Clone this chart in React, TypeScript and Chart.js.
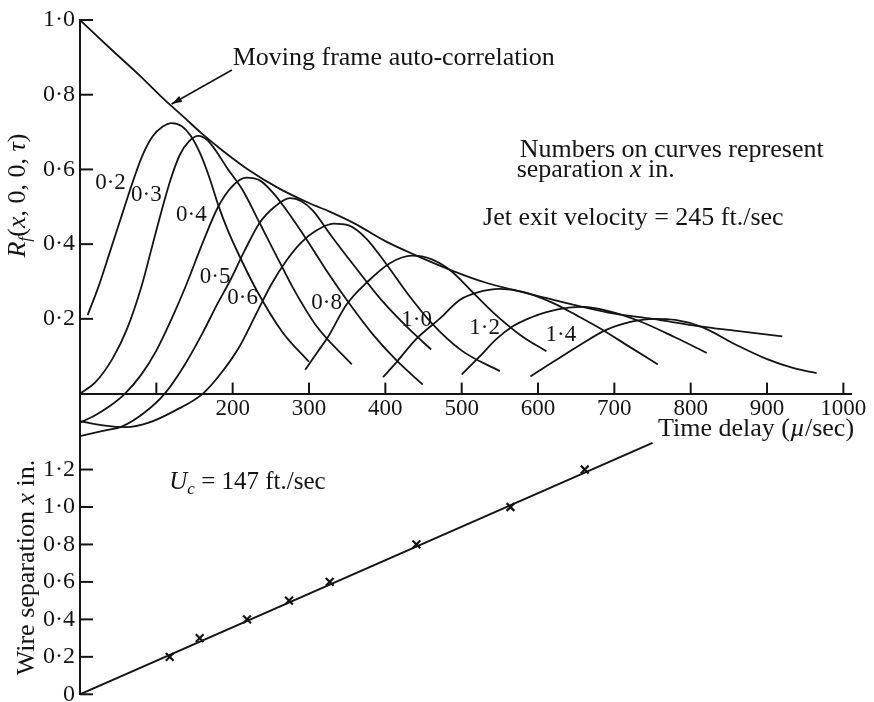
import { useEffect, useRef } from 'react';
import { Chart, registerables } from 'chart.js';

Chart.register(...registerables);

const INK = '#141414';
const FONT = '"Liberation Serif", "DejaVu Serif", serif';
const NOTE_SIZE = 26;
const TICK_SIZE = 24;
const CURVE_LABEL_SIZE = 23;

// Moving-frame auto-correlation envelope: time delay (µs) vs R
const envTime = [0, 40, 80, 111, 135, 159, 187, 220, 260, 300, 327, 360, 400, 440, 489, 530, 567, 610, 650, 700, 750, 812, 860, 920];
const envCorr = [1.0, 0.923, 0.848, 0.786, 0.742, 0.697, 0.65, 0.6, 0.55, 0.51, 0.487, 0.455, 0.408, 0.37, 0.328, 0.298, 0.278, 0.256, 0.236, 0.214, 0.2, 0.18, 0.168, 0.153];

// Space-time correlation curves, one pair of arrays per wire separation
const t02 = [10, 24, 39, 56, 70, 82, 95, 108, 120, 133, 145, 158, 170, 181, 193, 205, 231, 265, 300];
const r02 = [0.21, 0.285, 0.378, 0.485, 0.572, 0.638, 0.688, 0.714, 0.724, 0.716, 0.69, 0.64, 0.575, 0.505, 0.44, 0.385, 0.278, 0.165, 0.085];

const t03 = [0, 20, 43, 62, 81, 94, 107, 119, 131, 143, 155, 166, 178, 192, 213, 235, 262, 279, 310, 356];
const r03 = [0, 0.03, 0.095, 0.175, 0.29, 0.39, 0.49, 0.575, 0.64, 0.676, 0.69, 0.68, 0.65, 0.606, 0.545, 0.458, 0.35, 0.283, 0.18, 0.078];

const t04 = [0, 20, 40, 59, 80, 100, 120, 139, 160, 181, 200, 218, 236, 253, 275, 297, 325, 355, 385, 415, 449];
const r04 = [-0.078, -0.058, -0.032, 0, 0.05, 0.115, 0.2, 0.29, 0.4, 0.5, 0.556, 0.578, 0.57, 0.537, 0.478, 0.412, 0.323, 0.235, 0.155, 0.088, 0.024];

const t05 = [0, 30, 56, 85, 111, 135, 160, 180, 196, 215, 235, 255, 275, 290, 305, 330, 360, 395, 430, 460];
const r05 = [-0.114, -0.1, -0.087, -0.05, 0, 0.07, 0.16, 0.24, 0.3, 0.38, 0.456, 0.5, 0.523, 0.515, 0.49, 0.42, 0.34, 0.25, 0.175, 0.118];

const t06 = [0, 30, 60, 90, 125, 161, 185, 209, 230, 250, 270, 290, 310, 332, 352, 375, 400, 430, 460, 500, 550];
const r06 = [-0.074, -0.085, -0.09, -0.078, -0.045, 0, 0.055, 0.126, 0.21, 0.29, 0.355, 0.405, 0.437, 0.455, 0.45, 0.415, 0.35, 0.265, 0.19, 0.115, 0.06];

const t08 = [295, 310, 325, 349, 377, 406, 435, 460, 485, 515, 545, 578, 611];
const r08 = [0.064, 0.108, 0.152, 0.238, 0.3, 0.349, 0.369, 0.36, 0.33, 0.27, 0.21, 0.155, 0.113];

const t10 = [397, 415, 440, 472, 497, 520, 550, 580, 620, 650, 681, 720, 757];
const r10 = [0.044, 0.085, 0.145, 0.202, 0.25, 0.27, 0.28, 0.272, 0.242, 0.21, 0.175, 0.125, 0.078];

const t12 = [500, 524, 545, 567, 590, 611, 640, 660, 690, 734, 780, 821];
const r12 = [0.051, 0.1, 0.145, 0.18, 0.203, 0.218, 0.23, 0.232, 0.222, 0.193, 0.15, 0.109];

const t14 = [590, 620, 655, 690, 724, 752, 780, 815, 860, 900, 935, 965];
const r14 = [0.046, 0.085, 0.13, 0.171, 0.193, 0.2, 0.197, 0.178, 0.13, 0.092, 0.068, 0.055];

// Curve labels (separation in inches) and where they sit, in (µs, R)
const curveLabels = ['0·2', '0·3', '0·4', '0·5', '0·6', '0·8', '1·0', '1·2', '1·4'];
const curveLabelTime = [40, 87, 146, 177, 213, 323, 441, 530, 630];
const curveLabelCorr = [0.564, 0.532, 0.479, 0.313, 0.257, 0.243, 0.198, 0.176, 0.158];

// Lower panel: time of peak correlation vs wire separation
const peakTime = [117.5, 156.8, 218.8, 273.8, 327.1, 440.7, 563.9, 661.2];
const peakSep = [0.2, 0.3, 0.4, 0.5, 0.6, 0.8, 1.0, 1.2];
const fitTime = [0, 750];
const fitSep = [0, 1.342];

// Axis ticks
const timeTicks = [100, 200, 300, 400, 500, 600, 700, 800, 900, 1000];
const corrTicks = [0.2, 0.4, 0.6, 0.8, 1.0];
const sepTicks = [0, 0.2, 0.4, 0.6, 0.8, 1.0, 1.2];

const fmt = (v: number) => (v === 0 ? '0' : v.toFixed(1).replace('.', '·'));
const pts = (xs: number[], ys: number[]) => xs.map((x, i) => ({ x, y: ys[i] }));

type Part = { t: string; it?: boolean; sub?: boolean };

function fontOf(p: Part, size: number) {
  const s = p.sub ? size * 0.68 : size;
  return `${p.it ? 'italic ' : ''}${s}px ${FONT}`;
}

function drawRich(ctx: CanvasRenderingContext2D, parts: Part[], x: number, y: number, align: 'left' | 'right' | 'center', size: number) {
  ctx.textBaseline = 'middle';
  ctx.textAlign = 'left';
  const widths = parts.map((p) => {
    ctx.font = fontOf(p, size);
    return ctx.measureText(p.t).width;
  });
  const total = widths.reduce((a, b) => a + b, 0);
  let cx = align === 'left' ? x : align === 'right' ? x - total : x - total / 2;
  parts.forEach((p, i) => {
    ctx.font = fontOf(p, size);
    ctx.fillText(p.t, cx, p.sub ? y + size * 0.3 : y);
    cx += widths[i];
  });
}

const decor = {
  id: 'decor',
  afterDraw(chart: any) {
    const { ctx, chartArea, scales } = chart;
    const sx = scales.x;
    const sy = scales.y;
    const s2 = scales.y2;
    const X = (t: number) => sx.getPixelForValue(t);
    const Y = (r: number) => sy.getPixelForValue(r);
    const Y2 = (v: number) => s2.getPixelForValue(v);
    const left = chartArea.left;

    ctx.save();
    ctx.strokeStyle = INK;
    ctx.fillStyle = INK;
    ctx.lineWidth = 2;
    ctx.lineCap = 'butt';

    const seg = (x1: number, y1: number, x2: number, y2: number) => {
      ctx.beginPath();
      ctx.moveTo(x1, y1);
      ctx.lineTo(x2, y2);
      ctx.stroke();
    };

    // inward tick marks
    const y0 = Y(0);
    timeTicks.forEach((v) => seg(X(v), y0, X(v), y0 - 11));
    corrTicks.forEach((v) => seg(left, Y(v), left + 13, Y(v)));
    sepTicks.forEach((v) => seg(left, Y2(v), left + 13, Y2(v)));

    // lower panel tick labels
    sepTicks.forEach((v) => drawRich(ctx, [{ t: fmt(v) }], left - 5, Y2(v), 'right', TICK_SIZE));

    // separation labels on the curves
    curveLabels.forEach((lab, i) =>
      drawRich(ctx, [{ t: lab }], X(curveLabelTime[i]), Y(curveLabelCorr[i]), 'center', CURVE_LABEL_SIZE)
    );

    // envelope annotation with arrow
    drawRich(ctx, [{ t: 'Moving frame auto-correlation' }], X(200), Y(0.898), 'left', NOTE_SIZE);
    const ax1 = X(199), ay1 = Y(0.866), ax2 = X(120), ay2 = Y(0.775);
    ctx.lineWidth = 1.6;
    seg(ax1, ay1, ax2, ay2);
    const ang = Math.atan2(ay2 - ay1, ax2 - ax1);
    ctx.beginPath();
    ctx.moveTo(ax2, ay2);
    ctx.lineTo(ax2 - 11 * Math.cos(ang - 0.3), ay2 - 11 * Math.sin(ang - 0.3));
    ctx.lineTo(ax2 - 11 * Math.cos(ang + 0.3), ay2 - 11 * Math.sin(ang + 0.3));
    ctx.closePath();
    ctx.fill();

    // notes
    drawRich(ctx, [{ t: 'Numbers on curves represent' }], X(576), Y(0.652), 'left', NOTE_SIZE);
    drawRich(ctx, [{ t: 'separation ' }, { t: 'x', it: true }, { t: ' in.' }], X(572), Y(0.598), 'left', NOTE_SIZE);
    drawRich(ctx, [{ t: 'Jet exit velocity = 245 ft./sec' }], X(528), Y(0.47), 'left', NOTE_SIZE);
    drawRich(ctx, [{ t: 'U', it: true }, { t: 'c', it: true, sub: true }, { t: ' = 147 ft./sec' }], X(117), Y2(1.131), 'left', 25);

    // axis titles
    drawRich(ctx, [{ t: 'Time delay (' }, { t: 'µ', it: true }, { t: '/sec)' }], X(1014), Y(-0.096), 'right', NOTE_SIZE);

    ctx.save();
    ctx.translate(left - 62, Y(0.53));
    ctx.rotate(-Math.PI / 2);
    drawRich(
      ctx,
      [{ t: 'R', it: true }, { t: 'f', it: true, sub: true }, { t: '(' }, { t: 'x', it: true }, { t: ', 0, 0, ' }, { t: 'τ', it: true }, { t: ')' }],
      0,
      0,
      'center',
      NOTE_SIZE
    );
    ctx.restore();

    ctx.save();
    ctx.translate(left - 53, Y2(0.677));
    ctx.rotate(-Math.PI / 2);
    drawRich(ctx, [{ t: 'Wire separation ' }, { t: 'x', it: true }, { t: ' in.' }], 0, 0, 'center', NOTE_SIZE);
    ctx.restore();

    ctx.restore();
  },
};

export default function App() {
  const ref = useRef<HTMLCanvasElement | null>(null);

  useEffect(() => {
    if (!ref.current) return;
    const curve = (xs: number[], ys: number[]) => ({
      data: pts(xs, ys),
      yAxisID: 'y',
      borderColor: INK,
      borderWidth: 1.8,
      pointRadius: 0,
      cubicInterpolationMode: 'monotone' as const,
      fill: false,
    });

    const chart = new Chart(ref.current, {
      type: 'line',
      data: {
        datasets: [
          curve(envTime, envCorr),
          curve(t02, r02),
          curve(t03, r03),
          curve(t04, r04),
          curve(t05, r05),
          curve(t06, r06),
          curve(t08, r08),
          curve(t10, r10),
          curve(t12, r12),
          curve(t14, r14),
          {
            data: pts(fitTime, fitSep),
            yAxisID: 'y2',
            borderColor: INK,
            borderWidth: 2,
            pointRadius: 0,
            tension: 0,
          },
          {
            data: pts(peakTime, peakSep),
            yAxisID: 'y2',
            showLine: false,
            pointStyle: 'crossRot',
            pointRadius: 5.5,
            borderColor: INK,
            pointBorderWidth: 2.2,
          } as any,
        ],
      },
      options: {
        animation: false,
        responsive: false,
        devicePixelRatio: 1,
        layout: { padding: { left: 0, top: 20, right: 23, bottom: 7 } },
        plugins: { legend: { display: false }, tooltip: { enabled: false } },
        scales: {
          x: {
            type: 'linear',
            min: 0,
            max: 1010,
            position: { y: 0 } as any,
            grid: { display: false, drawTicks: false },
            border: { display: true, color: INK, width: 2 },
            afterFit: (s: any) => {
              s.height = 0;
              s.paddingLeft = 0;
              s.paddingRight = 0;
            },
            afterBuildTicks: (s: any) => {
              s.ticks = timeTicks.map((v) => ({ value: v }));
            },
            ticks: {
              autoSkip: false,
              maxRotation: 0,
              padding: 2,
              color: INK,
              font: { family: FONT, size: 23 },
              callback: (v: any) => (Number(v) >= 200 ? String(v) : ''),
            },
          },
          y: {
            type: 'linear',
            position: 'left',
            min: -0.805,
            max: 1.0,
            grid: { display: false, drawTicks: false },
            border: { display: true, color: INK, width: 2 },
            afterFit: (s: any) => {
              s.width = 80;
              s.paddingTop = 0;
              s.paddingBottom = 0;
            },
            afterBuildTicks: (s: any) => {
              s.ticks = corrTicks.map((v) => ({ value: v }));
            },
            ticks: {
              padding: 5,
              color: INK,
              font: { family: FONT, size: TICK_SIZE },
              callback: (v: any) => fmt(Number(v)),
            },
          },
          y2: {
            type: 'linear',
            position: 'left',
            min: 0,
            max: 3.6,
            display: false,
          },
        },
      },
      plugins: [decor],
    });
    return () => chart.destroy();
  }, []);

  return (
    <div style={{ position: 'absolute', left: 0, top: 0, width: 874, height: 702, background: '#fff' }}>
      <canvas ref={ref} width={874} height={702} style={{ display: 'block' }} />
    </div>
  );
}
